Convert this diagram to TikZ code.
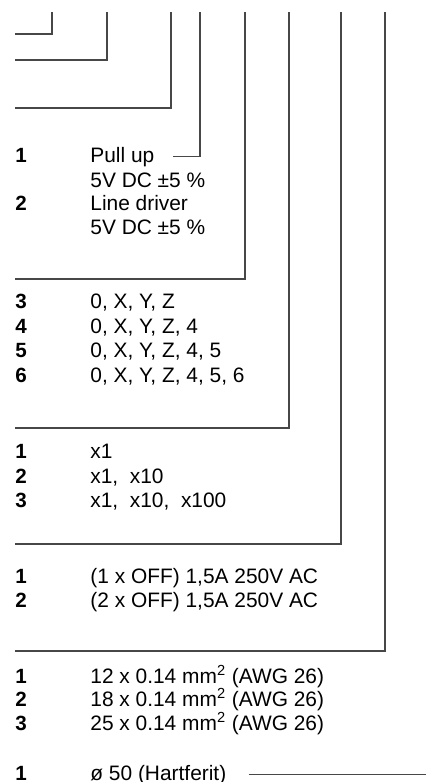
\documentclass[tikz,border=0pt]{standalone}
\usepackage{fontspec}
\setmainfont{Liberation Sans}
\begin{document}
\begin{tikzpicture}[x=0.5pt, y=-0.5pt,
    num/.style={anchor=base west, inner sep=0pt, font=\fontsize{10.3}{12}\selectfont\bfseries},
    txt/.style={anchor=base west, inner sep=0pt, font=\fontsize{10.45}{12}\selectfont},
    lead/.style={draw=black!72, line width=0.8pt}]
  \useasboundingbox (0,0) rectangle (426,782);
  % tops of the leader lines
  \coordinate (t1) at (52,12);
  \coordinate (t2) at (107,12);
  \coordinate (t3) at (171,12);
  \coordinate (t4) at (200,12);
  \coordinate (t5) at (245,12);
  \coordinate (t6) at (289,12);
  \coordinate (t7) at (341,12);
  \coordinate (t8) at (385,12);
  \coordinate (redge) at (426,12);
  % left ends of the leader lines
  \coordinate (e1) at (15,34);
  \coordinate (e2) at (15,60);
  \coordinate (e3) at (15,108);
  \coordinate (e5) at (15,279);
  \coordinate (e6) at (15,428);
  \coordinate (e7) at (15,544);
  \coordinate (e8) at (15,651);
  \path
    (15,162) node[num] (n11){1}
    (90,162) node[txt] (pullup){Pull up}
    (90,187) node[txt] (pu5v){5V DC ±5 \%}
    (15,210) node[num] (n12){2}
    (90,210) node[txt] (linedrv){Line driver}
    (90,234) node[txt] (ld5v){5V DC ±5 \%}
    (15,308) node[num] (n23){3}
    (90,308) node[txt] (ch3){0, X, Y, Z}
    (15,333) node[num] (n24){4}
    (90,333) node[txt] (ch4){0, X, Y, Z, 4}
    (15,357) node[num] (n25){5}
    (90,357) node[txt] (ch5){0, X, Y, Z, 4, 5}
    (15,382) node[num] (n26){6}
    (90,382) node[txt] (ch6){0, X, Y, Z, 4, 5, 6}
    (15,458) node[num] (n31){1}
    (90,458) node[txt] (mul1){x1}
    (15,483) node[num] (n32){2}
    (90,483) node[txt] (mul2){x1,\ \ x10}
    (15,507) node[num] (n33){3}
    (90,507) node[txt] (mul3){x1,\ \ x10,\ \ x100}
    (15,583) node[num] (n41){1}
    (90,583) node[txt] (sw1){(1 x OFF) 1,5A 250V AC}
    (15,607) node[num] (n42){2}
    (90,607) node[txt] (sw2){(2 x OFF) 1,5A 250V AC}
    (15,683) node[num] (n51){1}
    (90,683) node[txt] (cab1){12 x 0.14 mm\textsuperscript{2} (AWG 26)}
    (15,706) node[num] (n52){2}
    (90,706) node[txt] (cab2){18 x 0.14 mm\textsuperscript{2} (AWG 26)}
    (15,730) node[num] (n53){3}
    (90,730) node[txt] (cab3){25 x 0.14 mm\textsuperscript{2} (AWG 26)}
    (15,780) node[num] (n61){1}
    (90,780) node[txt] (hart){ø 50 (Hartferit)};
  \begin{scope}[lead]
    \draw (t1) |- (e1);
    \draw (t2) |- (e2);
    \draw (t3) |- (e3);
    \draw (t4) |- ([xshift=9pt]pullup.east);
    \draw (t5) |- (e5);
    \draw (t6) |- (e6);
    \draw (t7) |- (e7);
    \draw (t8) |- (e8);
    \draw ([xshift=11pt]hart.east) -- (hart.east -| redge);
  \end{scope}
\end{tikzpicture}
\end{document}
